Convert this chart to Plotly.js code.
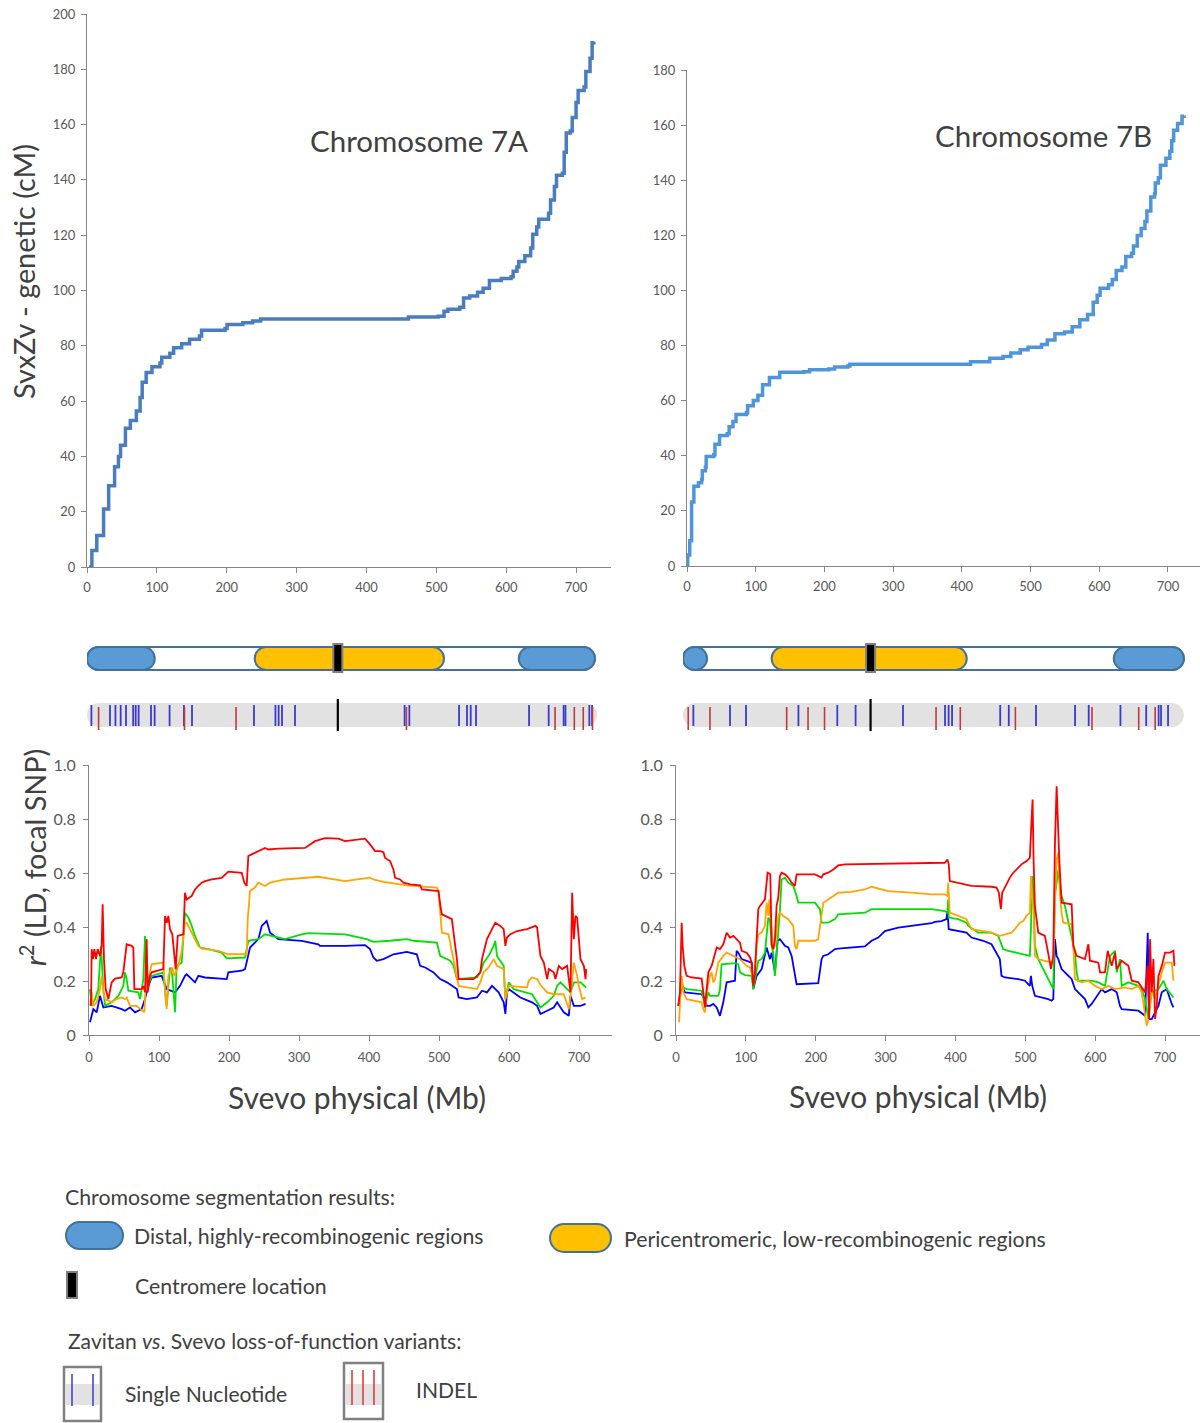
<!DOCTYPE html>
<html>
<head>
<meta charset="utf-8">
<script src="https://cdn.plot.ly/plotly-3.0.1.min.js"></script>
<style>html,body{margin:0;padding:0;background:#fff}#chart{width:1200px;height:1423px}</style>
</head>
<body>
<div id="chart"></div>
<script>
// ---------------- DATA ----------------
// Genetic (cM) vs physical (Mb) position, chromosome 7A
const gen7A_mb = [3,7,14,23.7,23.7,31,39.5,45,48,55,62,70.6,76,79,84.7,93,104.5,107,118.6,124,135.5,146.8,161,164,197.6,200.5,223,237,248.5,457,460,502.5,511,516.6,533.6,539,547.7,559,567,576,593,607,610,615.4,618,626.7,635,638,643.7,646.6,660.6,663.5,669,672,680.4,683,686,691.7,694.5,700,703,711.5,714,720,723,725.5];
const gen7A_cm = [0,6,11.4,15.5,21,29.4,36.3,40,44,50.2,53,56.4,61.3,66.8,70.3,72.4,73.8,75.9,77.3,79.3,80.7,82.4,83.5,85.6,86.3,87.7,88.3,89,89.7,89.7,90.4,90.7,92.5,93.2,93.9,97.3,98,99.4,100.8,103.6,104.3,105,107,108.5,110.5,112.6,115.4,120.3,123,125.8,127.9,132.7,137.6,141.7,142.4,150,157,157.7,162.6,168,172.3,173.6,179.2,184,189.6,190];
// chromosome 7B
const gen7B_mb = [0,1,4,6.7,6.7,10,10,16.7,21.2,22.3,26.8,27.9,39,40.7,47.4,58.6,61.3,66.9,71.4,86.5,88.2,96.5,103.2,110,120,135,170,178.5,206.4,214.8,234,237,393,412.7,440.6,460,471.3,485,496.4,516,524.4,535.5,549.5,560.6,571.7,583,591.2,591.2,597,601.2,613.5,619,624.7,633,638.6,647,649.8,655.3,661,666.5,669.3,675,680.5,681.6,686,689,697,702.7,705.5,708.3,714,720.5,723.4];
const gen7B_cm = [0,4,9.2,12.3,23.2,23.8,28.9,30.2,31.4,34.6,35.9,39.7,40.4,44.2,47.4,48,50.5,52.4,55,55.6,58.2,60.1,62,65.8,68.4,70.3,70.5,71.2,71.5,72.2,72.6,73.2,73.2,74.1,75.4,76,77.3,78.5,79.4,80.4,82,84.3,84.9,86.8,89.4,91.3,91.9,95.7,98.3,100.8,102.1,104,107.2,108.5,112.3,113.5,116.1,119.9,122.5,125,128.8,133.9,135.2,139,140.9,145.4,148,150.5,154.3,158.1,160.6,163.2,163.5];

// LD r2 with focal SNP, chromosome 7A
const ld7A_red_mb = [2.9,3.8,5.7,7.6,10,12.4,15.7,18.1,19.5,21.4,23.8,27.6,32.4,37.1,46.7,49,53.8,61,63.3,64.8,75.2,77.6,80,82.4,83.8,87.1,89.5,103.8,106.2,108.6,111,113.3,115.7,119,121.9,123.8,126.7,134.8,137.1,139.5,146.7,151.4,156.2,161,165.7,175.2,189.5,194.3,199,218.1,221.9,225.2,227.6,232.4,241.9,251.4,256.2,270.5,308.6,322.9,337.1,356.2,365.7,394.3,401.4,408.6,415.7,420.5,422.9,430,434.8,437.2,444.4,449.1,458.7,473,475.4,499.2,501.6,504,508.8,518.3,520.7,525.5,527.9,549.3,554.1,558.9,561.3,568.4,575.6,580.3,587.5,592.3,594.7,597,601.8,611.4,625.7,637.6,640,644.8,649.6,654.4,656.7,663.8,666.2,671,675.8,682.9,687.7,690.1,692.5,694.8,697.2,702,706.8,709.2,710.1];
const ld7A_red = [0.108,0.318,0.281,0.318,0.281,0.318,0.293,0.33,0.484,0.281,0.17,0.133,0.195,0.209,0.213,0.232,0.336,0.33,0.324,0.17,0.17,0.182,0.158,0.355,0.158,0.219,0.232,0.244,0.244,0.441,0.416,0.441,0.392,0.373,0.305,0.244,0.367,0.373,0.527,0.502,0.515,0.539,0.552,0.564,0.57,0.576,0.582,0.595,0.605,0.601,0.564,0.552,0.663,0.669,0.681,0.693,0.687,0.69,0.693,0.718,0.729,0.727,0.718,0.727,0.706,0.681,0.681,0.677,0.656,0.644,0.613,0.582,0.576,0.564,0.558,0.554,0.539,0.533,0.484,0.447,0.441,0.429,0.379,0.281,0.207,0.207,0.219,0.232,0.281,0.355,0.392,0.416,0.404,0.392,0.33,0.361,0.373,0.385,0.392,0.404,0.398,0.293,0.268,0.207,0.244,0.232,0.207,0.256,0.244,0.256,0.158,0.527,0.355,0.441,0.435,0.281,0.256,0.207,0.244];
const ld7A_orange_mb = [1.4,3.8,6.2,11,15.7,18.1,20.5,22.9,32.4,39.5,46.7,51.4,53.8,58.6,68.1,75.2,79,81,84.8,89.5,106.2,108.6,111,113.3,119,121.9,127.6,132.4,137.1,139.5,144.3,151.4,156.2,161,184.8,199,225.2,226.7,230,237.1,241.9,251.4,258.6,280,303.8,327.6,365.7,401.4,406.2,420.5,453.9,496.9,499.2,501.6,504,513.5,515.9,520.7,527.9,554.1,558.9,563.6,570.8,578,582.7,592.3,594.7,599.5,625.7,628.1,632.8,640,644.8,654.4,663.8,678.1,682.9,685.3,687.7,692.5,697.2,699.6,704.4,709.2];
const ld7A_orange = [0.108,0.158,0.108,0.121,0.17,0.219,0.158,0.133,0.121,0.133,0.139,0.133,0.139,0.108,0.108,0.09,0.084,0.182,0.207,0.262,0.268,0.158,0.096,0.219,0.25,0.219,0.256,0.312,0.416,0.416,0.392,0.355,0.33,0.32,0.312,0.299,0.299,0.429,0.533,0.546,0.564,0.552,0.564,0.576,0.581,0.586,0.57,0.583,0.576,0.567,0.554,0.546,0.533,0.466,0.379,0.373,0.342,0.287,0.182,0.17,0.195,0.232,0.25,0.281,0.256,0.244,0.133,0.182,0.176,0.201,0.213,0.207,0.185,0.158,0.151,0.151,0.108,0.096,0.145,0.268,0.219,0.182,0.133,0.139];
const ld7A_green_mb = [1.4,3.8,8.6,13.3,17.1,20.5,22.9,32.4,41.9,49,51.4,53.8,56.2,70.5,72.9,77.6,80,82.4,89.5,106.2,111,115.7,119,122.9,125.2,132.4,137.1,141.9,146.7,151.4,158.6,170.5,189.5,196.7,222.9,227.6,241.9,251.4,280,303.8,313.3,365.7,396.7,406.2,430,453.9,463.5,496.9,501.6,515.9,520.7,525.5,554.1,558.9,563.6,570.8,578,580.3,582.7,592.3,594.7,599.5,606.6,625.7,632.8,640,644.8,654.4,663.8,668.6,673.4,687.7,692.5,702,710.1];
const ld7A_green = [0.17,0.108,0.133,0.17,0.33,0.17,0.108,0.121,0.145,0.182,0.232,0.207,0.164,0.158,0.133,0.207,0.367,0.17,0.219,0.232,0.108,0.25,0.219,0.084,0.256,0.268,0.453,0.435,0.404,0.367,0.324,0.318,0.305,0.284,0.287,0.349,0.355,0.373,0.355,0.373,0.377,0.373,0.355,0.345,0.349,0.355,0.349,0.342,0.293,0.275,0.256,0.207,0.213,0.232,0.268,0.293,0.33,0.349,0.293,0.256,0.133,0.195,0.17,0.158,0.151,0.121,0.102,0.121,0.145,0.182,0.195,0.158,0.195,0.195,0.176];
const ld7A_blue_mb = [1.4,3.8,6.2,11,15.7,20.5,32.4,46.7,51.4,58.6,65.7,75.2,80,84.8,89.5,103.8,111,122.9,130,137.1,139.5,146.7,151.4,156.2,165.7,196.7,199,218.1,222.9,226.7,230,241.9,246.7,253.8,258.6,270.5,303.8,327.6,330,365.7,394.3,401.4,406.2,411,420.5,434.8,453.9,468.2,473,480.2,492.1,501.6,511.2,525.5,527.9,539.8,554.1,561.3,568.4,575.6,585.1,592.3,594.7,597,599.5,616.1,632.8,640,644.8,654.4,663.8,668.6,678.1,685.3,687.7,692.5,702,709.2];
const ld7A_blue = [0.047,0.071,0.096,0.084,0.145,0.102,0.108,0.096,0.09,0.102,0.084,0.096,0.133,0.182,0.213,0.219,0.17,0.158,0.182,0.219,0.225,0.207,0.195,0.219,0.213,0.207,0.232,0.238,0.244,0.287,0.324,0.355,0.404,0.422,0.379,0.355,0.349,0.336,0.33,0.33,0.333,0.318,0.287,0.275,0.281,0.299,0.308,0.299,0.256,0.25,0.232,0.207,0.195,0.17,0.139,0.133,0.139,0.164,0.158,0.182,0.158,0.121,0.078,0.158,0.17,0.139,0.121,0.108,0.078,0.09,0.102,0.121,0.084,0.071,0.145,0.108,0.108,0.115];

// LD r2 with focal SNP, chromosome 7B
const ld7B_red_mb = [3.3,5.7,8.1,9.5,11.9,15.3,22.4,36.7,39.1,41.5,43.9,46.3,51,53.4,58.2,62.9,67.7,72.5,77.3,82,86.8,91.6,93.9,101.1,105.9,108.3,110.6,113,115.4,117.8,120.2,127.3,131.1,135,136.9,139.2,141.6,144,146.4,148.8,151.2,155.9,160.7,165.5,170.2,172.6,198.9,203.6,208.4,210.8,217.9,225.1,232.2,241.8,365.8,384.7,388.5,390.4,391.9,401.4,418.2,422.9,451.6,458.8,462.1,465,466.9,477.9,482.7,487.4,494.6,501.8,506.5,508.9,510.4,511.8,513.7,518.5,528,535.2,536.6,540,542.4,544.8,547.2,548.6,551.9,566.3,568.7,573.4,585.4,590.2,592.5,604.5,606.9,614,617.9,621.2,623.6,628.4,630.8,637.9,647.5,652.3,661.8,671.4,675.2,677.1,678.5,680.9,683.3,685.7,688.1,690.5,695.3,700,707.2,712,713.4];
const ld7B_red = [0.108,0.158,0.416,0.33,0.256,0.219,0.213,0.209,0.158,0.102,0.17,0.232,0.256,0.281,0.324,0.318,0.336,0.379,0.361,0.367,0.355,0.342,0.312,0.305,0.287,0.268,0.182,0.232,0.355,0.466,0.478,0.502,0.601,0.595,0.336,0.318,0.355,0.478,0.509,0.589,0.601,0.595,0.583,0.564,0.552,0.595,0.595,0.589,0.583,0.595,0.601,0.613,0.628,0.632,0.635,0.638,0.65,0.632,0.57,0.564,0.554,0.552,0.549,0.546,0.527,0.466,0.527,0.583,0.601,0.613,0.632,0.644,0.656,0.798,0.872,0.65,0.478,0.379,0.367,0.268,0.244,0.293,0.712,0.921,0.712,0.65,0.49,0.484,0.33,0.293,0.281,0.336,0.275,0.268,0.232,0.232,0.312,0.275,0.256,0.305,0.244,0.275,0.256,0.201,0.195,0.158,0.256,0.059,0.355,0.158,0.281,0.059,0.108,0.219,0.256,0.305,0.305,0.312,0.256];
const ld7B_orange_mb = [4.3,5.7,8.1,10.5,15.3,36.7,39.1,41.5,43.9,48.6,51,53.4,55.8,60.6,67.7,72.5,82,91.6,101.1,105.9,110.6,113,115.4,117.8,122.6,127.3,129.7,132.1,133.5,136.9,139.2,141.6,146.4,148.8,153.6,160.7,167.9,170.2,172.6,175,198.9,203.6,206,210.8,217.9,227.5,232.2,251.3,270.4,279.9,289.5,303.8,337.1,365.8,384.7,388.5,389.5,391.9,403.8,415.8,418.2,422.9,439.7,451.6,463.5,470.7,480.3,485,492.2,497,501.8,506.5,508,509.9,511.8,513.7,518.5,537.6,540,542.4,544.8,547.2,549.5,551.9,554.3,566.3,568.7,571,580.6,590.2,599.7,609.3,618.8,628.4,642.7,652.3,661.8,666.6,673.8,676.2,680.9,685.7,690.5,695.3,700,709.6,712];
const ld7B_orange = [0.047,0.133,0.219,0.158,0.133,0.121,0.096,0.084,0.158,0.219,0.232,0.195,0.207,0.268,0.293,0.305,0.293,0.281,0.256,0.25,0.207,0.244,0.33,0.373,0.379,0.404,0.49,0.441,0.502,0.404,0.318,0.33,0.441,0.453,0.441,0.429,0.404,0.33,0.318,0.349,0.349,0.355,0.404,0.49,0.502,0.521,0.527,0.53,0.539,0.549,0.542,0.533,0.527,0.521,0.521,0.515,0.564,0.453,0.441,0.429,0.416,0.392,0.385,0.379,0.367,0.373,0.379,0.392,0.416,0.422,0.441,0.453,0.589,0.502,0.453,0.293,0.281,0.268,0.281,0.502,0.65,0.675,0.527,0.453,0.416,0.41,0.33,0.207,0.195,0.201,0.182,0.17,0.182,0.17,0.176,0.17,0.182,0.158,0.034,0.059,0.17,0.133,0.182,0.232,0.268,0.268,0.201];
const ld7B_green_mb = [4.3,7.2,10.5,15.3,36.7,41.5,46.3,48.6,60.6,62.9,65.3,84.4,89.2,91.6,98.7,108.3,110.6,113,117.8,122.6,127.3,132.1,134.5,136.9,139.2,141.6,145.4,148.8,151.2,155.9,160.7,167.9,172.6,175,198.9,203.6,206,208.4,217.9,227.5,232.2,270.4,279.9,365.8,384.7,388.5,389.5,390.4,403.8,415.8,418.2,432.5,451.6,461.2,468.3,475.5,489.8,497,506.5,508,509.9,511.8,513.7,518.5,528,532.8,537.6,540,542.4,547.2,549.5,551.9,556.7,566.3,571,573.4,575.8,594.9,604.5,614,618.8,621.2,628.4,630.8,635.5,637.9,647.5,661.8,666.6,671.4,676.2,680.9,690.5,697.7,702.4,712];
const ld7B_green = [0.108,0.207,0.176,0.17,0.164,0.108,0.158,0.145,0.145,0.17,0.262,0.266,0.262,0.232,0.222,0.219,0.17,0.207,0.275,0.281,0.305,0.435,0.422,0.33,0.305,0.219,0.342,0.466,0.576,0.583,0.564,0.552,0.515,0.49,0.49,0.472,0.466,0.416,0.416,0.429,0.447,0.453,0.466,0.466,0.459,0.453,0.502,0.435,0.429,0.416,0.404,0.379,0.379,0.367,0.318,0.312,0.305,0.299,0.293,0.392,0.589,0.527,0.33,0.281,0.232,0.207,0.182,0.17,0.515,0.613,0.552,0.515,0.478,0.367,0.305,0.232,0.201,0.201,0.195,0.182,0.256,0.293,0.312,0.232,0.281,0.182,0.195,0.182,0.17,0.133,0.059,0.158,0.17,0.201,0.17,0.139];
const ld7B_blue_mb = [3.3,5.7,8.1,12.9,36.7,41.5,43.9,48.6,53.4,58.2,62.9,67.7,72.5,84.4,86.8,89.2,93.9,108.3,110.6,115.4,122.6,129.7,134.5,136.9,141.6,145.4,148.8,155.9,160.7,165.5,170.2,172.6,203.6,208.4,210.8,217.9,227.5,232.2,270.4,279.9,289.5,299,318.1,337.1,365.8,370.4,379.9,387.1,388.5,390.4,403.8,415.8,422.9,439.7,451.6,458.8,463.5,465.9,470.7,489.8,499.4,506.5,508,509.9,513.7,532.8,537.6,540,542.4,544.8,547.2,551.9,556.7,566.3,571,575.8,585.4,590.2,594.9,609.3,614,623.6,630.8,635.5,637.9,661.8,671.4,675.2,677.1,680.9,685.7,690.5,695.3,702.4,709.6,712];
const ld7B_blue = [0.108,0.145,0.182,0.158,0.151,0.133,0.108,0.108,0.115,0.102,0.071,0.121,0.195,0.201,0.312,0.305,0.281,0.268,0.17,0.219,0.244,0.324,0.281,0.305,0.232,0.349,0.355,0.33,0.324,0.293,0.219,0.188,0.192,0.281,0.293,0.299,0.318,0.32,0.328,0.349,0.361,0.385,0.398,0.404,0.414,0.419,0.422,0.429,0.459,0.392,0.385,0.379,0.361,0.349,0.336,0.305,0.281,0.219,0.213,0.207,0.201,0.182,0.219,0.182,0.145,0.133,0.127,0.133,0.355,0.293,0.281,0.244,0.232,0.207,0.17,0.158,0.133,0.102,0.115,0.17,0.158,0.17,0.158,0.108,0.096,0.09,0.071,0.379,0.059,0.059,0.084,0.108,0.158,0.17,0.115,0.102];

// Chromosome segmentation (Mb)
const chrLen7A = 727, chrLen7B = 729;
const trackLen7A = 730, trackLen7B = 729;
const distal7A = [[0, 97], [618, 727]];
const pericen7A = [240, 511];
const cen7A = 359;
const distal7B = [[0, 35], [627, 729]];
const pericen7B = [129, 413];
const cen7B = 273;

// Loss-of-function variants (Mb)
const snp7A = [6.3,32.9,40.7,48.2,55.8,66.1,69.7,73.9,91.6,96.8,118.2,138.7,150.3,239,269.7,274.3,279.1,297.7,454.6,461.4,532.5,543.9,549.2,556.8,632.7,660.8,682.2,684.8,719,722.9];
const indel7A = [16.6,139.5,213.3,457.2,669.9,697.5,710.3,723.5];
const snp7B = [15.1,68.4,91.7,168,224.6,251.2,320.2,381.4,386.6,391.6,461.7,474.2,513.8,570.6,590.5,636.7,674.2,692.3,695.8,706];
const indel7B = [7.6,39.3,150.9,182,206,368.3,403.6,483.8,595.3,663.3,687.3];

const xTicks = [0,100,200,300,400,500,600,700];
const r2Ticks = [0,0.2,0.4,0.6,0.8,1.0];
const r2TickText = ['0','0.2','0.4','0.6','0.8','1.0'];

// ---------------- LAYOUT HELPERS ----------------
const W = 1200, H = 1423;
const X = px => px / W, Y = py => 1 - py / H;
const FONT = 'Lato, "Open Sans", sans-serif';
const K = 0.5523;
function pill(x0, x1, yc, rx, ry) {
  const a = x0 + rx, b = x1 - rx;
  return `M${a},${yc-ry} L${b},${yc-ry} C${b+K*rx},${yc-ry} ${x1},${yc-K*ry} ${x1},${yc} ` +
         `C${x1},${yc+K*ry} ${b+K*rx},${yc+ry} ${b},${yc+ry} L${a},${yc+ry} ` +
         `C${a-K*rx},${yc+ry} ${x0},${yc+K*ry} ${x0},${yc} C${x0},${yc-K*ry} ${a-K*rx},${yc-ry} ${a},${yc-ry} Z`;
}
function segs(pos, y0, y1) {
  const xs = [], ys = [];
  pos.forEach(p => { xs.push(p, p, null); ys.push(y0, y1, null); });
  return {xs, ys};
}

const axisCommon = {
  showline: true, linecolor: '#868686', linewidth: 1,
  ticks: 'outside', ticklen: 5, tickcolor: '#868686', tickwidth: 1,
  showgrid: false, zeroline: false, fixedrange: true,
  tickfont: {family: FONT, size: 13, color: '#595959'}
};

// Pixel geometry
const top7A = {x0: 87, x1: 611, xr: 750, y0: 567, y1: 14};
const top7B = {x0: 687, x1: 1200, xr: 746.6, y0: 566, y1: 70};
const bot7A = {x0: 89, x1: 612, xr: 747, y0: 1035, y1: 765};
const bot7B = {x0: 676, x1: 1200, xr: 750, y0: 1035, y1: 765};
const trk7A = {x0: 87, x1: 611, xr: 750};
const trk7B = {x0: 683, x1: 1200, xr: 752.5};
const trkY = {y0: 745, y1: 635}; // track y units = pixels upward from y0

const layout = {
  width: W, height: H, margin: {l: 0, r: 0, t: 0, b: 0},
  paper_bgcolor: '#ffffff', plot_bgcolor: 'rgba(0,0,0,0)',
  showlegend: false, font: {family: FONT},
  xaxis: Object.assign({}, axisCommon, {domain: [X(top7A.x0), X(top7A.x1)], range: [0, top7A.xr], tickvals: xTicks, anchor: 'y', ticklabelstandoff: 3}),
  yaxis: Object.assign({}, axisCommon, {domain: [Y(top7A.y0), Y(top7A.y1)], range: [0, 200], dtick: 20, tick0: 0, anchor: 'x', ticklabelstandoff: 3}),
  xaxis2: Object.assign({}, axisCommon, {domain: [X(top7B.x0), X(top7B.x1)], range: [0, top7B.xr], tickvals: xTicks, anchor: 'y2', ticklabelstandoff: 3}),
  yaxis2: Object.assign({}, axisCommon, {domain: [Y(top7B.y0), Y(top7B.y1)], range: [0, 180], dtick: 20, tick0: 0, anchor: 'x2', ticklabelstandoff: 3}),
  xaxis3: Object.assign({}, axisCommon, {domain: [X(bot7A.x0), X(bot7A.x1)], range: [0, bot7A.xr], tickvals: xTicks, anchor: 'y3', ticklabelstandoff: 5}),
  yaxis3: Object.assign({}, axisCommon, {domain: [Y(bot7A.y0), Y(bot7A.y1)], range: [0, 1], tickvals: r2Ticks, ticktext: r2TickText, anchor: 'x3', ticklabelstandoff: 4, tickfont: {family: FONT, size: 16, color: '#595959'}}),
  xaxis4: Object.assign({}, axisCommon, {domain: [X(bot7B.x0), X(bot7B.x1)], range: [0, bot7B.xr], tickvals: xTicks, anchor: 'y4', ticklabelstandoff: 5}),
  yaxis4: Object.assign({}, axisCommon, {domain: [Y(bot7B.y0), Y(bot7B.y1)], range: [0, 1], tickvals: r2Ticks, ticktext: r2TickText, anchor: 'x4', ticklabelstandoff: 4, tickfont: {family: FONT, size: 16, color: '#595959'}}),
  xaxis5: {domain: [X(trk7A.x0), X(trk7A.x1)], range: [0, trk7A.xr], visible: false, fixedrange: true, anchor: 'y5'},
  yaxis5: {domain: [Y(trkY.y0), Y(trkY.y1)], range: [0, trkY.y0 - trkY.y1], visible: false, fixedrange: true, anchor: 'x5'},
  xaxis6: {domain: [X(trk7B.x0), X(trk7B.x1)], range: [0, trk7B.xr], visible: false, fixedrange: true, anchor: 'y6'},
  yaxis6: {domain: [Y(trkY.y0), Y(trkY.y1)], range: [0, trkY.y0 - trkY.y1], visible: false, fixedrange: true, anchor: 'x6'},
  shapes: [], annotations: []
};

// ---------------- CHROMOSOME BARS ----------------
const BAR_LINE = '#41719C', BLUE = '#5B9BD5', GOLD = '#FFC000';
function chromShapes(xref, yref, trk, len, distal, pericen, cen, trackLen) {
  const ppx = (trk.x1 - trk.x0) / trk.xr;
  const yc = trkY.y0 - 658.5, r = 11.5, rx = r / ppx;
  const out = [];
  out.push({type: 'path', xref, yref, layer: 'below', path: pill(0, trackLen, trkY.y0 - 715, 12 / ppx, 12), fillcolor: '#e2e2e2', line: {width: 0}});
  out.push({type: 'path', xref, yref, path: pill(0, len, yc, rx, r), fillcolor: '#ffffff', line: {color: BAR_LINE, width: 2}});
  distal.forEach(d => out.push({type: 'path', xref, yref, path: pill(d[0], d[1], yc, Math.min(rx, (d[1]-d[0])/2), r), fillcolor: BLUE, line: {color: BAR_LINE, width: 2}}));
  out.push({type: 'path', xref, yref, path: pill(pericen[0], pericen[1], yc, rx, r), fillcolor: GOLD, line: {color: BAR_LINE, width: 2}});
  out.push({type: 'rect', xref, yref, x0: cen - 4.5 / ppx, x1: cen + 4.5 / ppx, y0: trkY.y0 - 672, y1: trkY.y0 - 644, fillcolor: '#000000', line: {color: '#7f7f7f', width: 2}});
  return out;
}
layout.shapes.push(...chromShapes('x5', 'y5', trk7A, chrLen7A, distal7A, pericen7A, cen7A, trackLen7A));
layout.shapes.push(...chromShapes('x6', 'y6', trk7B, chrLen7B, distal7B, pericen7B, cen7B, trackLen7B));

// ---------------- LEGEND GLYPHS ----------------
function paperPill(x0, x1, y0, y1, fill) {
  const r = (y1 - y0) / 2;
  return {type: 'path', xref: 'paper', yref: 'paper', path: pill(X(x0), X(x1), Y((y0 + y1) / 2), r / W, r / H), fillcolor: fill, line: {color: BAR_LINE, width: 2}};
}
function paperRect(x0, x1, y0, y1, fill, lineColor, lw) {
  return {type: 'rect', xref: 'paper', yref: 'paper', x0: X(x0), x1: X(x1), y0: Y(y1), y1: Y(y0), fillcolor: fill, line: {color: lineColor, width: lw}};
}
function paperLine(x, y0, y1, color) {
  return {type: 'line', xref: 'paper', yref: 'paper', x0: X(x), x1: X(x), y0: Y(y1), y1: Y(y0), line: {color, width: 1.5}};
}
layout.shapes.push(paperPill(66, 123, 1222, 1249, BLUE));
layout.shapes.push(paperPill(550, 611, 1224, 1252, GOLD));
layout.shapes.push(paperRect(67, 77, 1272, 1298, '#000000', '#7f7f7f', 2));
layout.shapes.push(paperRect(64, 101, 1367, 1421, '#ffffff', '#808080', 2.5));
layout.shapes.push(paperRect(65.5, 99.5, 1384, 1405, '#e2e2e2', 'rgba(0,0,0,0)', 0));
layout.shapes.push(paperLine(72, 1374, 1406, '#3a3ad0'));
layout.shapes.push(paperLine(93, 1374, 1406, '#3a3ad0'));
layout.shapes.push(paperRect(344, 383, 1363, 1419, '#ffffff', '#808080', 2.5));
layout.shapes.push(paperRect(345.5, 381.5, 1384, 1405, '#e2e2e2', 'rgba(0,0,0,0)', 0));
layout.shapes.push(paperLine(352, 1370, 1405, '#e03030'));
layout.shapes.push(paperLine(363, 1370, 1405, '#e03030'));
layout.shapes.push(paperLine(374, 1370, 1405, '#e03030'));

// ---------------- TEXT ----------------
function ann(text, x, y, size, opts) {
  return Object.assign({text, xref: 'paper', yref: 'paper', x: X(x), y: Y(y), showarrow: false,
    xanchor: 'left', yanchor: 'middle', font: {family: FONT, size, color: '#404040'}}, opts || {});
}
layout.annotations.push(
  ann('Chromosome 7A', 419, 141, 29.5, {xanchor: 'center'}),
  ann('Chromosome 7B', 1043, 135, 29.5, {xanchor: 'center'}),
  ann('SvxZv - genetic (cM)', 24, 272, 28.8, {xanchor: 'center', textangle: -90}),
  ann('<i>r</i><sup>2</sup> (LD, focal SNP)', 33, 858, 28.8, {xanchor: 'center', textangle: -90}),
  ann('Svevo physical (Mb)', 357, 1097, 30, {xanchor: 'center'}),
  ann('Svevo physical (Mb)', 918, 1096, 30, {xanchor: 'center'}),
  ann('Chromosome segmentation results:', 63, 1197, 21.3),
  ann('Distal, highly-recombinogenic regions', 132, 1236, 21.3),
  ann('Pericentromeric, low-recombinogenic regions', 622, 1239, 21.3),
  ann('Centromere location', 133, 1286, 21.3),
  ann('Zavitan <i>vs</i>. Svevo loss-of-function variants:', 66, 1340, 21.1),
  ann('Single Nucleotide', 123, 1393, 21.1),
  ann('INDEL', 414, 1389, 21.1)
);

// ---------------- TRACES ----------------
const traces = [];
traces.push({x: gen7A_mb, y: gen7A_cm, xaxis: 'x', yaxis: 'y', mode: 'lines', line: {color: '#4a7cc0', width: 3.5, shape: 'hv'}, hoverinfo: 'skip'});
traces.push({x: gen7B_mb, y: gen7B_cm, xaxis: 'x2', yaxis: 'y2', mode: 'lines', line: {color: '#4f95d9', width: 3.5, shape: 'hv'}, hoverinfo: 'skip'});

function ldTrace(x, y, color, xa, ya) {
  return {x, y, xaxis: xa, yaxis: ya, mode: 'lines', line: {color, width: 1.8}, hoverinfo: 'skip'};
}
traces.push(ldTrace(ld7A_blue_mb, ld7A_blue, '#0000ff', 'x3', 'y3'));
traces.push(ldTrace(ld7A_green_mb, ld7A_green, '#00e000', 'x3', 'y3'));
traces.push(ldTrace(ld7A_orange_mb, ld7A_orange, '#ffa500', 'x3', 'y3'));
traces.push(ldTrace(ld7A_red_mb, ld7A_red, '#ff0000', 'x3', 'y3'));
traces.push(ldTrace(ld7B_blue_mb, ld7B_blue, '#0000ff', 'x4', 'y4'));
traces.push(ldTrace(ld7B_green_mb, ld7B_green, '#00e000', 'x4', 'y4'));
traces.push(ldTrace(ld7B_orange_mb, ld7B_orange, '#ffa500', 'x4', 'y4'));
traces.push(ldTrace(ld7B_red_mb, ld7B_red, '#ff0000', 'x4', 'y4'));

function tickTrace(pos, y0, y1, color, width, xa, ya) {
  const s = segs(pos, trkY.y0 - y0, trkY.y0 - y1);
  return {x: s.xs, y: s.ys, xaxis: xa, yaxis: ya, mode: 'lines', line: {color, width}, hoverinfo: 'skip', connectgaps: false};
}
traces.push(tickTrace(snp7A, 726, 705, '#3a3ad0', 1.8, 'x5', 'y5'));
traces.push(tickTrace(indel7A, 730, 707, '#c0393b', 1.6, 'x5', 'y5'));
traces.push(tickTrace([cen7A], 731, 699, '#000000', 2.2, 'x5', 'y5'));
traces.push(tickTrace(snp7B, 726, 705, '#3a3ad0', 1.8, 'x6', 'y6'));
traces.push(tickTrace(indel7B, 730, 707, '#c0393b', 1.6, 'x6', 'y6'));
traces.push(tickTrace([cen7B], 731, 699, '#000000', 2.2, 'x6', 'y6'));

Plotly.newPlot('chart', traces, layout, {staticPlot: true, displayModeBar: false});
</script>
</body>
</html>
